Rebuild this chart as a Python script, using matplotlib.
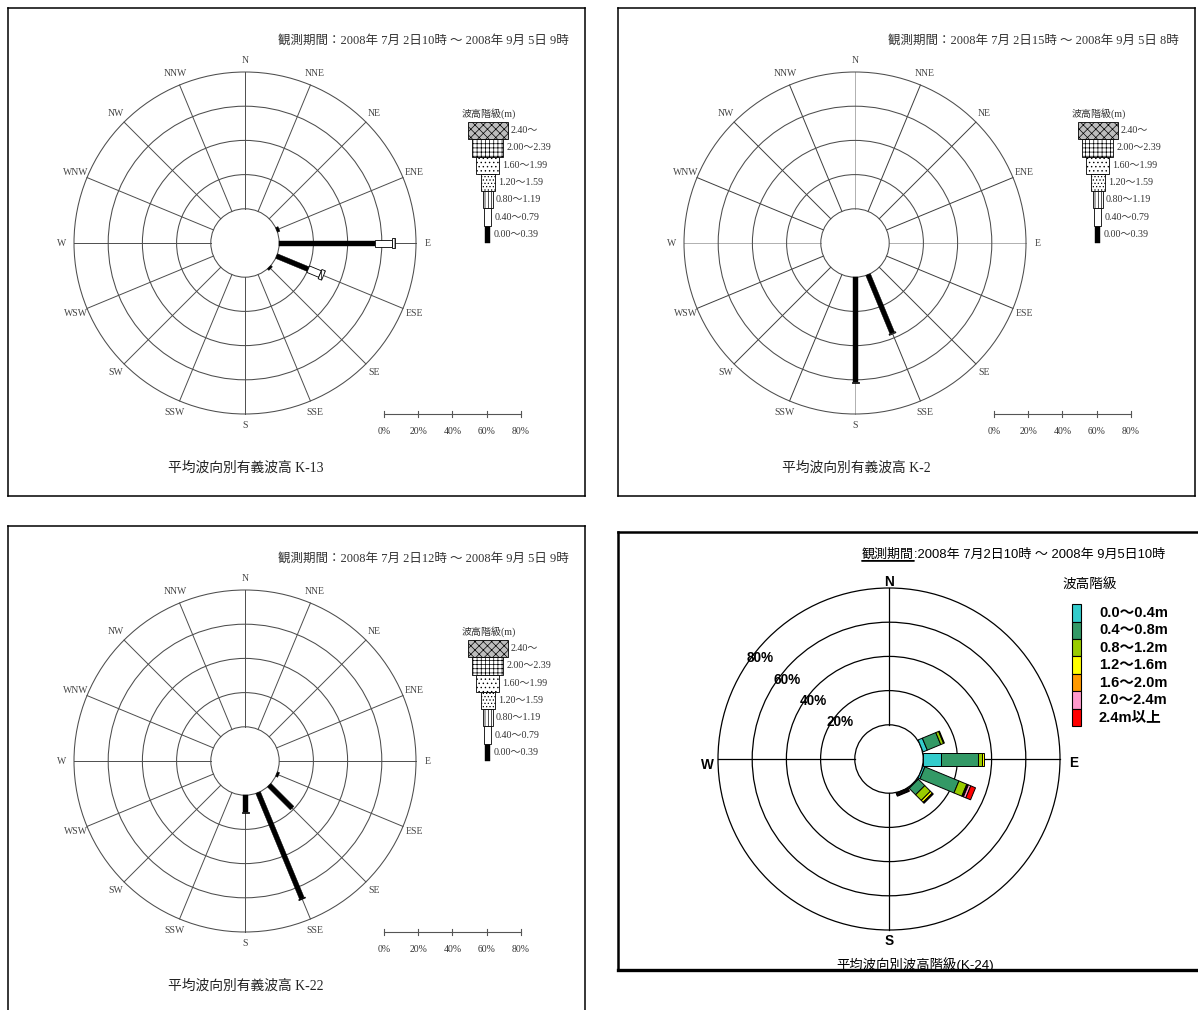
import matplotlib
matplotlib.use("Agg")
import numpy as np
import matplotlib.pyplot as plt
from matplotlib.patches import Circle, Polygon, Rectangle

plt.rcParams['hatch.linewidth'] = 0.5

W_PX, H_PX = 1198, 1010
S = 1.71     # pixels per percent unit
R0 = 20.0    # radius of the calm circle, in percent units

SERIF = ['Liberation Serif', 'Noto Sans CJK JP']
SANS = ['Liberation Sans', 'Noto Sans CJK JP']

DIRECTIONS = ['N', 'NNE', 'NE', 'ENE', 'E', 'ESE', 'SE', 'SSE',
              'S', 'SSW', 'SW', 'WSW', 'W', 'WNW', 'NW', 'NNW']
RING_PCT = [20, 40, 60, 80]
SCALE_LABELS = ['0%', '20%', '40%', '60%', '80%']

# Significant wave height classes (m) for the stations K-13, K-2, K-22
HS_CLASSES = ['0.00～0.39', '0.40～0.79', '0.80～1.19', '1.20～1.59',
              '1.60～1.99', '2.00～2.39', '2.40～']

# --- K-13 -------------------------------------------------------------
K13_PERIOD = '観測期間：2008年 7月 2日10時 ～ 2008年 9月 5日 9時'
K13_TITLE = '平均波向別有義波高 K-13'
K13_DIRS = ['ENE', 'E', 'ESE', 'SE']
K13_H000 = [1.5, 56.0, 20.0, 1.2]   # 0.00-0.39 m (%)
K13_H040 = [0.0, 10.0, 7.5, 0.0]    # 0.40-0.79 m (%)
K13_H080 = [0.0, 2.0, 2.2, 0.0]     # 0.80-1.19 m (%)

# --- K-2 --------------------------------------------------------------
K2_PERIOD = '観測期間：2008年 7月 2日15時 ～ 2008年 9月 5日 8時'
K2_TITLE = '平均波向別有義波高 K-2'
K2_DIRS = ['SSE', 'S']
K2_H000 = [37.0, 61.0]
K2_H040 = [0.6, 0.8]
K2_H080 = [0.0, 0.0]

# --- K-22 -------------------------------------------------------------
K22_PERIOD = '観測期間：2008年 7月 2日12時 ～ 2008年 9月 5日 9時'
K22_TITLE = '平均波向別有義波高 K-22'
K22_DIRS = ['ESE', 'SE', 'SSE', 'S']
K22_H000 = [1.3, 19.0, 67.0, 10.0]
K22_H040 = [0.0, 0.0, 0.5, 0.7]
K22_H080 = [0.0, 0.0, 0.0, 0.0]

# --- K-24 -------------------------------------------------------------
K24_PERIOD_HEAD = '観測期間'
K24_PERIOD_BODY = ':2008年 7月2日10時 ～ 2008年 9月5日10時'
K24_TITLE = '平均波向別波高階級(K-24)'
K24_LEGEND_TITLE = '波高階級'
K24_CLASSES = ['0.0～0.4m', '0.4～0.8m', '0.8～1.2m', '1.2～1.6m',
               '1.6～2.0m', '2.0～2.4m', '2.4m以上']
K24_COLORS = ['#33CCCC', '#339966', '#99CC00', '#FFFF00',
              '#FF9900', '#FF99CC', '#FF0000']
K24_DIRS = ['ENE', 'E', 'ESE', 'SE', 'SSE']
K24_H00 = [2.7, 10.5, 1.2, 0.5, 0.0]
K24_H04 = [8.5, 21.6, 21.5, 5.3, 0.0]
K24_H08 = [1.8, 2.5, 5.0, 4.7, 0.3]
K24_H12 = [0.5, 0.8, 0.5, 1.5, 0.3]
K24_H16 = [0.0, 0.0, 0.5, 0.5, 0.3]
K24_H20 = [0.0, 0.0, 1.5, 0.3, 0.6]
K24_H24 = [0.0, 0.0, 3.0, 0.0, 0.5]

# Styles of the height classes in the black & white roses
CLASS_WIDTH_PX = [5, 7, 10, 14, 23, 31, 40]
CLASS_FACE = ['black', 'white', 'white', 'white', 'white', 'white', '#bdbdbd']
CLASS_HATCH = [None, None, '|||||', '.....', '....', '++++', 'xxxx']

fig = plt.figure(figsize=(W_PX / 100, H_PX / 100), dpi=100)


def make_panel(box, center, lw=1.1):
    x0, y0, x1, y1 = box
    cx, cy = center
    ax = fig.add_axes([x0 / W_PX, 1 - y1 / H_PX, (x1 - x0) / W_PX, (y1 - y0) / H_PX])
    ax.set_xlim((x0 - cx) / S, (x1 - cx) / S)
    ax.set_ylim((cy - y1) / S, (cy - y0) / S)
    ax.set_xticks([])
    ax.set_yticks([])
    for sp in ax.spines.values():
        sp.set_linewidth(lw)
    return ax


def unit(bearing):
    b = np.deg2rad(bearing)
    return np.array([np.sin(b), np.cos(b)]), np.array([np.cos(b), -np.sin(b)])


def bar_segment(ax, bearing, r_start, r_end, width, **kw):
    u, p = unit(bearing)
    pts = [r_start * u + width / 2 * p, r_end * u + width / 2 * p,
           r_end * u - width / 2 * p, r_start * u - width / 2 * p]
    ax.add_patch(Polygon(pts, closed=True, **kw))


def class_patch_kw(i):
    kw = dict(facecolor=CLASS_FACE[i], zorder=4)
    if i == 0:
        kw.update(edgecolor='black', linewidth=0.3)
    else:
        kw.update(edgecolor='black', linewidth=0.6)
    if CLASS_HATCH[i]:
        kw['hatch'] = CLASS_HATCH[i]
    return kw


def draw_mono_rose(ax, period, title, dirs, classes, spoke_color='#4d4d4d',
                   axis_color='#4d4d4d'):
    # rings
    for v in [0] + RING_PCT:
        ax.add_patch(Circle((0, 0), R0 + v, fill=False, ec='#4d4d4d', lw=0.75, zorder=2))
    # spokes and direction names
    for i, d in enumerate(DIRECTIONS):
        u, _ = unit(i * 22.5)
        col = axis_color if i % 4 == 0 else spoke_color
        ax.plot([R0 * u[0], (R0 + 80) * u[0]], [R0 * u[1], (R0 + 80) * u[1]],
                color=col, lw=0.7, zorder=1)
        ax.text(107 * u[0], 107 * u[1], d, ha='center', va='center',
                fontsize=7, family=SERIF, color='#444444')
    # stacked bars
    for k, d in enumerate(dirs):
        bearing = DIRECTIONS.index(d) * 22.5
        r = R0
        for ci, vals in enumerate(classes):
            v = vals[k]
            if v <= 0:
                continue
            bar_segment(ax, bearing, r, r + v, CLASS_WIDTH_PX[ci] / S, **class_patch_kw(ci))
            r += v
    # height class legend (stepped pyramid)
    box_h = 70.8 / len(HS_CLASSES)
    lx = 142.0
    for ci, lab in enumerate(HS_CLASSES):
        w = CLASS_WIDTH_PX[ci] / S
        y = ci * box_h
        ax.add_patch(Rectangle((lx - w / 2, y), w, box_h, **class_patch_kw(ci)))
        ax.text(lx + w / 2 + 1.8, y + box_h / 2, lab, ha='left', va='center',
                fontsize=7.2, family=SERIF, color='#333333')
    ax.text(126.9, 75.6, '波高階級(m)', ha='left', va='center', fontsize=7.2,
            family=SERIF, color='#333333')
    # percentage scale
    x0 = 81.3
    ax.plot([x0, x0 + 80], [-100, -100], color='#555555', lw=0.8)
    for j, lab in enumerate(SCALE_LABELS):
        xv = x0 + RING_PCT[j - 1] if j > 0 else x0
        ax.plot([xv, xv], [-101.8, -98.2], color='#555555', lw=0.8)
        ax.text(xv, -110.5, lab, ha='center', va='center', fontsize=7,
                family=SERIF, color='#333333')
    ax.text(189.5, 118.5, period, ha='right', va='center', fontsize=9,
            family=SERIF, color='#333333')
    ax.text(0.6, -131.5, title, ha='center', va='center', fontsize=9.9,
            family=SERIF, color='#222222')


ax1 = make_panel((8, 8, 585, 496), (245, 243))
draw_mono_rose(ax1, K13_PERIOD, K13_TITLE, K13_DIRS, [K13_H000, K13_H040, K13_H080])

ax2 = make_panel((618, 8, 1195, 496), (855, 243))
draw_mono_rose(ax2, K2_PERIOD, K2_TITLE, K2_DIRS, [K2_H000, K2_H040, K2_H080],
               spoke_color='#3d3d3d', axis_color='#b0b0b0')

ax3 = make_panel((8, 526, 585, 1030), (245, 761))
draw_mono_rose(ax3, K22_PERIOD, K22_TITLE, K22_DIRS, [K22_H000, K22_H040, K22_H080])

# --- colour rose K-24 ---------------------------------------------------
ax4 = make_panel((618, 532, 1215, 970), (889, 759), lw=1.8)
ax4.spines['bottom'].set_linewidth(2.4)
ax4.spines['right'].set_visible(False)

for v in [0] + RING_PCT:
    ax4.add_patch(Circle((0, 0), R0 + v, fill=False, ec='black', lw=0.9, zorder=2))
label_pos = {'N': (0, 103.5), 'E': (108.2, -2.5), 'S': (0, -106.4), 'W': (-106.4, -3.5)}
for name in ['N', 'E', 'S', 'W']:
    u, _ = unit(DIRECTIONS.index(name) * 22.5)
    ax4.plot([R0 * u[0], (R0 + 80) * u[0]], [R0 * u[1], (R0 + 80) * u[1]],
             color='black', lw=0.9, zorder=1)
    ax4.text(*label_pos[name], name, ha='center', va='center', fontsize=9.8,
             family=SANS, weight='bold')
for v, lab in zip(RING_PCT, SCALE_LABELS[1:]):
    u, _ = unit(308.5)
    ax4.text((R0 + v - 3.8) * u[0], (R0 + v - 3.8) * u[1] - 1.0, lab, ha='center',
             va='center', fontsize=9.8, family=SANS, weight='bold')

k24_stack = [K24_H00, K24_H04, K24_H08, K24_H12, K24_H16, K24_H20, K24_H24]
for k, d in enumerate(K24_DIRS):
    bearing = DIRECTIONS.index(d) * 22.5
    r = R0
    for ci, vals in enumerate(k24_stack):
        v = vals[k]
        if v <= 0:
            continue
        bar_segment(ax4, bearing, r, r + v, 13 / S, facecolor=K24_COLORS[ci],
                    edgecolor='black', linewidth=0.7, zorder=4)
        r += v

# legend
ax4.text(117.2, 101.8, K24_LEGEND_TITLE, ha='center', va='center', fontsize=9.8,
         family=SANS)
lh = 10.2
for ci, (lab, col) in enumerate(zip(K24_CLASSES, K24_COLORS)):
    top = 90.6 - ci * lh
    ax4.add_patch(Rectangle((107.0, top - lh), 5.4, lh, facecolor=col,
                            edgecolor='black', linewidth=0.8))
    ax4.text(122.8, top - lh / 2, lab, ha='left', va='center', fontsize=10.5,
             family=SANS, weight='bold')

head = ax4.text(-15.8, 119.3, K24_PERIOD_HEAD, ha='left', va='center', fontsize=9.4,
                family=SANS)
ax4.annotate(K24_PERIOD_BODY, xy=(1, 0.5), xycoords=head, ha='left', va='center',
             fontsize=9.4, family=SANS)
ax4.annotate('', xy=(0, 0.02), xycoords=head, xytext=(1, 0.02), textcoords=head,
             arrowprops=dict(arrowstyle='-', lw=1.3, color='black',
                             shrinkA=0, shrinkB=0))
ax4.text(15.2, -120.3, K24_TITLE, ha='center', va='center', fontsize=9.6,
         family=SANS)

fig.savefig('out.png', dpi=100)
